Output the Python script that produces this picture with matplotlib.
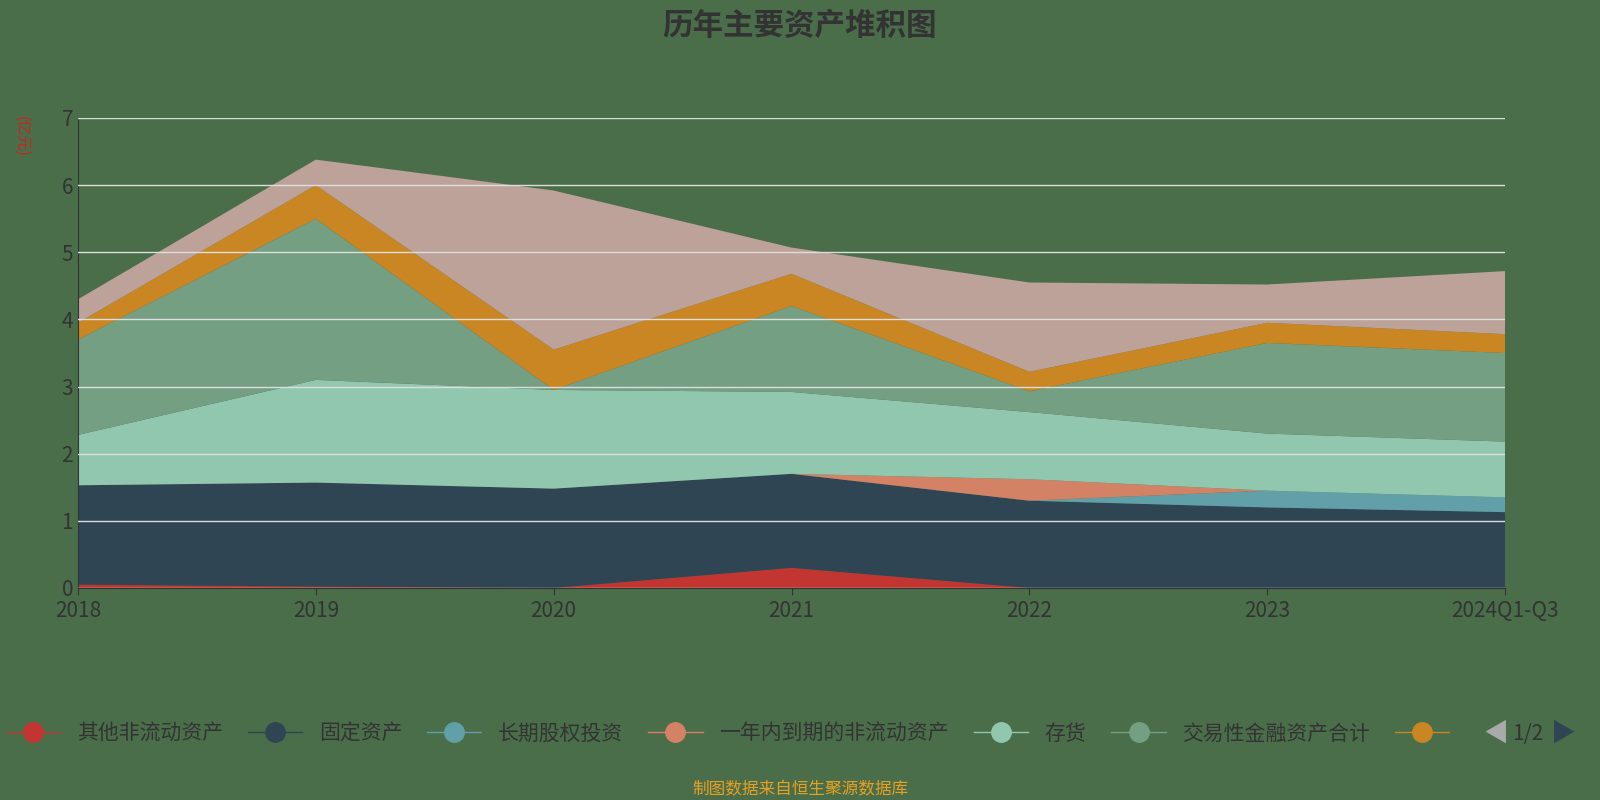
import matplotlib.pyplot as plt
from matplotlib.lines import Line2D
import numpy as np

plt.rcParams["font.family"] = "Noto Sans CJK SC"

years = ["2018", "2019", "2020", "2021", "2022", "2023", "2024Q1-Q3"]
other_noncurrent = [0.05, 0.02, 0.0, 0.30, 0.0, 0.0, 0.0]
fixed_assets = [1.48, 1.55, 1.48, 1.40, 1.30, 1.20, 1.13]
lt_equity = [0.0, 0.0, 0.0, 0.0, 0.0, 0.25, 0.22]
due_one_year = [0.0, 0.0, 0.0, 0.0, 0.32, 0.0, 0.0]
inventory = [0.75, 1.53, 1.47, 1.22, 1.00, 0.85, 0.83]
trading_fin = [1.42, 2.40, 0.0, 1.28, 0.31, 1.35, 1.32]
unnamed = [0.25, 0.50, 0.60, 0.48, 0.29, 0.30, 0.28]
last_series = [0.35, 0.38, 2.37, 0.39, 1.33, 0.57, 0.94]

series = [other_noncurrent, fixed_assets, lt_equity, due_one_year,
          inventory, trading_fin, unnamed, last_series]
labels = ["其他非流动资产", "固定资产", "长期股权投资", "一年内到期的非流动资产",
          "存货", "交易性金融资产合计", ""]
colors = ["#c23531", "#2f4554", "#61a0a8", "#d48265", "#91c7ae",
          "#749f83", "#ca8622", "#bda29a"]
bg = "#4a6e4a"

fig = plt.figure(figsize=(16, 8), dpi=100, facecolor=bg)
ax = fig.add_axes([78 / 1600, 212 / 800, 1427 / 1600, 470 / 800], facecolor=bg)
x = np.arange(len(years))
ax.stackplot(x, *series, colors=colors, alpha=1.0)

ax.set_xlim(0, len(years) - 1)
ax.set_ylim(0, 7)
ax.set_yticks(range(8))
ax.set_xticks(x)
ax.set_xticklabels(years, fontsize=15, color="#333333")
ax.tick_params(axis="y", labelsize=15, colors="#333333", length=0)
ax.tick_params(axis="x", length=5, color="#333333")
ax.grid(axis="y", color="#dddddd", lw=1)
ax.set_axisbelow(False)
for s in ["top", "right"]:
    ax.spines[s].set_visible(False)
ax.spines["left"].set_color("#333333")
ax.spines["bottom"].set_color("#333333")
ax.text(-0.04, 0.96, "(亿元)", transform=ax.transAxes, rotation=-90,
        color="#cc2222", fontsize=11, ha="center", va="center")

fig.text(0.5, 0.968, "历年主要资产堆积图", ha="center", va="center",
         fontsize=22, fontweight="bold", color="#333333")

handles = [Line2D([0], [0], color=c, marker="o", markersize=14, lw=1)
           for c in colors[:7]]
fig.legend(handles, labels, loc="center", bbox_to_anchor=(0.46, 0.083),
           ncol=7, frameon=False, fontsize=15, labelcolor="#333333",
           handlelength=2.6, columnspacing=1.2)
fig.text(0.955, 0.083, "1/2", ha="center", va="center", fontsize=15, color="#333333")
fig.text(0.935, 0.083, "◀", ha="center", va="center", fontsize=18, color="#aaaaaa")
fig.text(0.977, 0.083, "▶", ha="center", va="center", fontsize=18, color="#2f4554")

fig.text(0.5, 0.013, "制图数据来自恒生聚源数据库", ha="center", va="center",
         fontsize=12, color="#e8a020")

fig.savefig("out.png", dpi=100, facecolor=bg)
